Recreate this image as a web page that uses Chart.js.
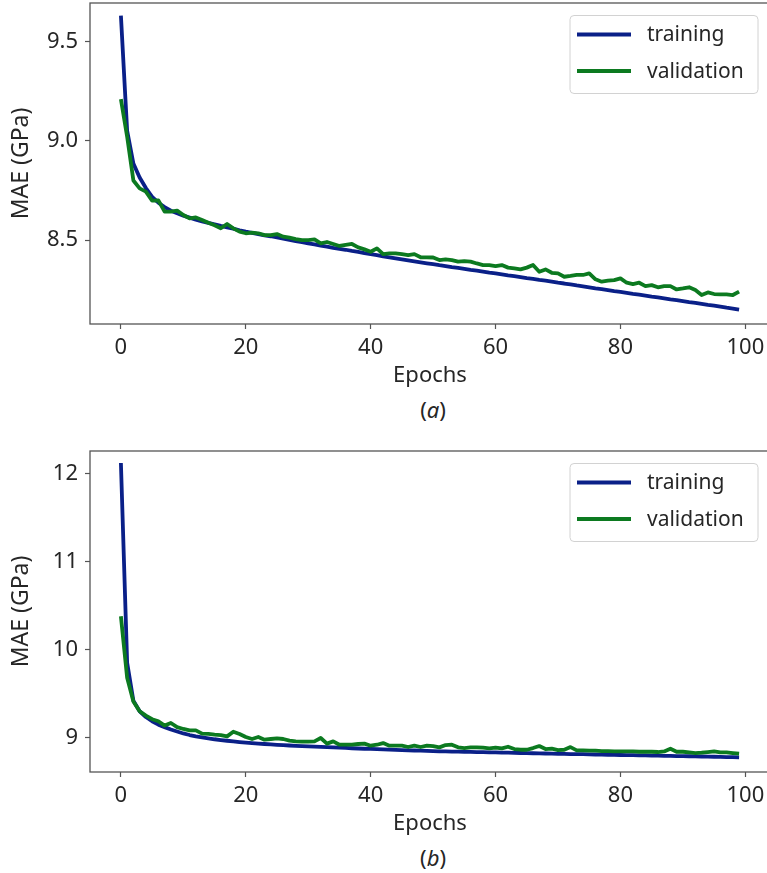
<!DOCTYPE html>
<html>
<head>
<meta charset="utf-8">
<script src="https://cdn.jsdelivr.net/npm/chart.js@4.4.1/dist/chart.umd.min.js"></script>
<style>
  html, body { margin: 0; padding: 0; background: #fff; overflow: hidden; }
  body { width: 767px; height: 873px; position: relative; font-family: 'Noto Sans', sans-serif; color: #262626; }
  canvas { position: absolute; left: 0; }
  #chartA { top: 0; }
  #chartB { top: 448px; }
  .caption { position: absolute; left: 383px; width: 100px; text-align: center; font-size: 22px; line-height: 26px; }
</style>
</head>
<body>
<canvas id="chartA" width="772" height="390"></canvas>
<div class="caption" style="top:396px">(<i>a</i>)</div>
<canvas id="chartB" width="772" height="390"></canvas>
<div class="caption" style="top:844px">(<i>b</i>)</div>
<script>
// MAE per epoch, panel (a)
const trainA = [
  9.63, 9.05, 8.885, 8.815, 8.762, 8.718, 8.688, 8.666, 8.648, 8.635,
  8.623, 8.613, 8.603, 8.594, 8.586, 8.579, 8.571, 8.564, 8.557, 8.549,
  8.542, 8.536, 8.530, 8.524, 8.519, 8.513, 8.507, 8.501, 8.495, 8.489,
  8.483, 8.478, 8.472, 8.467, 8.461, 8.456, 8.451, 8.445, 8.440, 8.434,
  8.429, 8.424, 8.418, 8.413, 8.408, 8.403, 8.398, 8.393, 8.388, 8.383,
  8.378, 8.373, 8.369, 8.364, 8.360, 8.355, 8.350, 8.346, 8.341, 8.336,
  8.332, 8.327, 8.322, 8.318, 8.313, 8.308, 8.304, 8.299, 8.295, 8.290,
  8.285, 8.281, 8.276, 8.271, 8.267, 8.262, 8.257, 8.253, 8.248, 8.243,
  8.239, 8.234, 8.229, 8.225, 8.220, 8.215, 8.211, 8.206, 8.201, 8.197,
  8.192, 8.187, 8.183, 8.178, 8.173, 8.169, 8.164, 8.159, 8.155, 8.150
];
const valA = [
  9.21, 9.02, 8.80, 8.76, 8.744, 8.698, 8.70, 8.643, 8.643, 8.648,
  8.626, 8.609, 8.614, 8.601, 8.587, 8.574, 8.559, 8.581, 8.559, 8.542,
  8.534, 8.537, 8.534, 8.525, 8.525, 8.530, 8.517, 8.512, 8.505, 8.500,
  8.500, 8.503, 8.483, 8.490, 8.480, 8.470, 8.475, 8.480, 8.463, 8.453,
  8.441, 8.458, 8.429, 8.433, 8.433, 8.429, 8.424, 8.429, 8.413, 8.413,
  8.412, 8.399, 8.403, 8.399, 8.391, 8.394, 8.391, 8.382, 8.374, 8.374,
  8.369, 8.374, 8.361, 8.357, 8.352, 8.361, 8.374, 8.340, 8.352, 8.335,
  8.332, 8.315, 8.319, 8.324, 8.324, 8.332, 8.302, 8.290, 8.295, 8.298,
  8.307, 8.285, 8.278, 8.285, 8.268, 8.273, 8.262, 8.268, 8.268, 8.251,
  8.256, 8.262, 8.248, 8.223, 8.236, 8.228, 8.226, 8.226, 8.223, 8.240
];

// MAE per epoch, panel (b)
const trainB = [
  12.12, 9.85, 9.42, 9.30, 9.235, 9.186, 9.148, 9.12, 9.093, 9.07,
  9.048, 9.03, 9.016, 9.004, 8.993, 8.982, 8.973, 8.965, 8.957, 8.950,
  8.944, 8.938, 8.933, 8.928, 8.923, 8.919, 8.915, 8.911, 8.907, 8.904,
  8.901, 8.898, 8.895, 8.892, 8.889, 8.886, 8.883, 8.880, 8.877, 8.874,
  8.872, 8.869, 8.866, 8.864, 8.861, 8.859, 8.856, 8.854, 8.852, 8.849,
  8.847, 8.845, 8.844, 8.842, 8.841, 8.839, 8.838, 8.836, 8.835, 8.833,
  8.832, 8.830, 8.829, 8.827, 8.826, 8.824, 8.823, 8.822, 8.820, 8.819,
  8.817, 8.816, 8.814, 8.813, 8.812, 8.810, 8.809, 8.807, 8.806, 8.805,
  8.803, 8.802, 8.801, 8.799, 8.798, 8.797, 8.795, 8.794, 8.793, 8.791,
  8.790, 8.789, 8.787, 8.786, 8.785, 8.783, 8.782, 8.780, 8.779, 8.777
];
const valB = [
  10.38, 9.68, 9.41, 9.30, 9.25, 9.21, 9.186, 9.137, 9.167, 9.12,
  9.099, 9.083, 9.083, 9.046, 9.042, 9.034, 9.03, 9.015, 9.068, 9.042,
  9.008, 8.985, 9.008, 8.977, 8.985, 8.993, 8.985, 8.966, 8.958, 8.955,
  8.955, 8.958, 8.996, 8.932, 8.958, 8.92, 8.92, 8.92, 8.928, 8.932,
  8.909, 8.92, 8.939, 8.909, 8.909, 8.909, 8.894, 8.909, 8.894, 8.909,
  8.905, 8.89, 8.916, 8.92, 8.89, 8.882, 8.89, 8.89, 8.886, 8.878,
  8.886, 8.878, 8.897, 8.871, 8.863, 8.863, 8.882, 8.905, 8.871, 8.875,
  8.859, 8.863, 8.893, 8.856, 8.856, 8.852, 8.852, 8.848, 8.848, 8.844,
  8.844, 8.844, 8.844, 8.840, 8.840, 8.840, 8.837, 8.844, 8.875, 8.840,
  8.840, 8.833, 8.825, 8.829, 8.837, 8.844, 8.833, 8.833, 8.825, 8.818
];

const epochs = trainA.map((_, i) => i);
const seriesNames = ['training', 'validation'];
const xTicks = [0, 20, 40, 60, 80, 100];
const yTicksA = [8.5, 9.0, 9.5];
const yTicksB = [9, 10, 11, 12];

const trainColor = '#0a2088';
const valColor = '#0c7a20';
const textColor = '#262626';
const spineColor = '#555555';
const FONT = "'Noto Sans', sans-serif";

Chart.defaults.font.family = FONT;
Chart.defaults.color = textColor;

// box round the axes plus a matplotlib-style legend in the top right corner
const frameLegend = {
  id: 'frameLegend',
  afterDatasetsDraw(chart) {
    const { ctx, chartArea: a } = chart;
    ctx.save();
    ctx.strokeStyle = spineColor;
    ctx.lineWidth = 1.3;
    ctx.strokeRect(a.left, a.top, a.right - a.left, a.bottom - a.top);

    const bw = 188, bh = 78;
    const bx = a.right - 200, by = a.top + 12.5;
    ctx.beginPath();
    ctx.roundRect(bx, by, bw, bh, 4);
    ctx.fillStyle = 'rgba(255,255,255,0.85)';
    ctx.fill();
    ctx.strokeStyle = '#d2d2d2';
    ctx.lineWidth = 1;
    ctx.stroke();

    ctx.font = '21px ' + FONT;
    ctx.textBaseline = 'middle';
    ctx.textAlign = 'left';
    chart.data.datasets.forEach((ds, i) => {
      const ly = by + 19 + i * 36.5;
      ctx.beginPath();
      ctx.moveTo(bx + 7, ly);
      ctx.lineTo(bx + 61, ly);
      ctx.strokeStyle = ds.borderColor;
      ctx.lineWidth = 3.8;
      ctx.stroke();
      ctx.fillStyle = textColor;
      ctx.fillText(ds.label, bx + 77, ly + 1);
    });
    ctx.restore();
  }
};

function points(values) {
  return epochs.map((e, i) => ({ x: e, y: values[i] }));
}

function drawPanel(id, train, val, yMin, yMax, yTicks, yFormat) {
  const tickGrid = {
    display: true,
    drawOnChartArea: false,
    drawTicks: true,
    tickLength: 5,
    tickWidth: 1.2,
    tickColor: spineColor
  };
  return new Chart(document.getElementById(id), {
    type: 'line',
    data: {
      datasets: [
        { label: seriesNames[0], data: points(train), borderColor: trainColor, borderWidth: 3.8,
          pointRadius: 0, tension: 0, borderJoinStyle: 'round', order: 1 },
        { label: seriesNames[1], data: points(val), borderColor: valColor, borderWidth: 3.8,
          pointRadius: 0, tension: 0, borderJoinStyle: 'round', order: 0 }
      ]
    },
    options: {
      responsive: false,
      animation: false,
      events: [],
      layout: { padding: { top: 3, right: 2, left: 0, bottom: 0 } },
      plugins: { legend: { display: false }, tooltip: { enabled: false } },
      scales: {
        x: {
          type: 'linear',
          min: -4.95,
          max: 103.95,
          grid: tickGrid,
          border: { display: false },
          afterBuildTicks: s => { s.ticks = xTicks.map(v => ({ value: v })); },
          afterFit: s => { s.height = 66; s.paddingLeft = 0; s.paddingRight = 0; },
          ticks: { font: { size: 22 }, padding: 6, maxRotation: 0, color: textColor },
          title: { display: true, text: 'Epochs', font: { size: 22 }, padding: { top: 0, bottom: 1 }, color: textColor }
        },
        y: {
          min: yMin,
          max: yMax,
          grid: tickGrid,
          border: { display: false },
          afterBuildTicks: s => { s.ticks = yTicks.map(v => ({ value: v })); },
          afterFit: s => { s.width = 90; s.paddingTop = 0; s.paddingBottom = 0; },
          ticks: { font: { size: 22 }, padding: 7, color: textColor, callback: v => yFormat(v) },
          title: { display: true, text: 'MAE (GPa)', font: { size: 23 }, padding: { top: 8, bottom: 8 }, color: textColor }
        }
      }
    },
    plugins: [frameLegend]
  });
}

drawPanel('chartA', trainA, valA, 8.077, 9.694, yTicksA, v => v.toFixed(1));
drawPanel('chartB', trainB, valB, 8.61, 12.257, yTicksB, v => String(v));
</script>
</body>
</html>
